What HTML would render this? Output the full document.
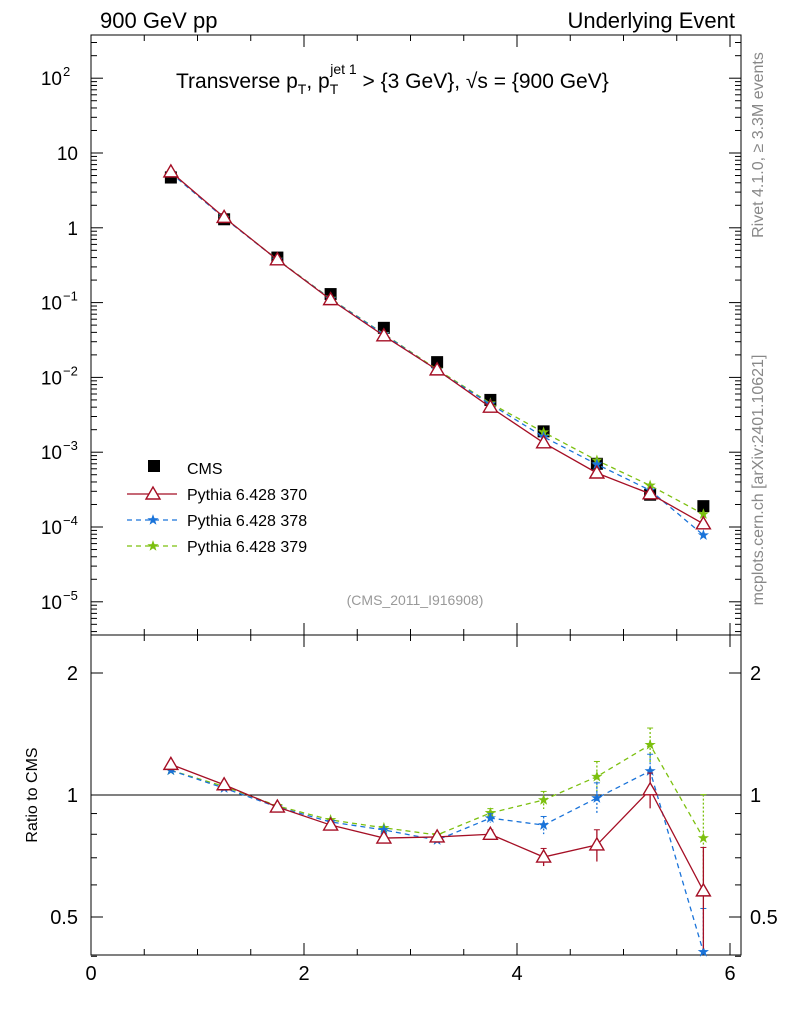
<!DOCTYPE html>
<html><head><meta charset="utf-8"><style>
body{margin:0;background:#fff;}
svg{font-family:"Liberation Sans",sans-serif;}
</style></head><body>
<svg id="c" width="786" height="1024" viewBox="0 0 786 1024" xmlns="http://www.w3.org/2000/svg"></svg>
<script>
const xCenters=[0.75,1.25,1.75,2.25,2.75,3.25,3.75,4.25,4.75,5.25,5.75];
const cmsValues=[4.7,1.3,0.4,0.13,0.046,0.016,0.005,0.0019,0.0007,0.00027,0.00019];
const ratio370=[1.19,1.06,0.934,0.843,0.783,0.788,0.80,0.703,0.753,1.03,0.58];
const ratio378=[1.15,1.04,0.934,0.858,0.82,0.774,0.877,0.843,0.983,1.146,0.41];
const ratio379=[1.15,1.05,0.94,0.868,0.83,0.797,0.903,0.972,1.11,1.33,0.783];
const ratioErr=[0,0,0,0,0.01,0.01,0.025,0.05,0.09,0.1,0.28];
const xTicks=[0,2,4,6];
const mainTicks=[-5,-4,-3,-2,-1,0,1,2];
const mainTickLabels=["10","10","10","10","10","1","10","10"];
const mainTickExp=["−5","−4","−3","−2","−1","","","2"];
const ratioTicks=[0.5,1,2];

const NS="http://www.w3.org/2000/svg";
const svg=document.getElementById('c');
function el(t,a,p){const e=document.createElementNS(NS,t);for(const k in a)e.setAttribute(k,a[k]);(p||svg).appendChild(e);return e;}
const L=91,R=741,T=35,M=635,B=955;
const sx=v=>L+v*106.5;
const sy=v=>153-(Math.log10(v)-1)*74.8;
const ry=v=>795-Math.log2(v)*122;

let f=el('rect',{x:L,y:T,width:R-L,height:M-T,fill:'none',stroke:'#000','stroke-width':1});

f=el('rect',{x:L,y:M,width:R-L,height:B-M,fill:'none',stroke:'#000','stroke-width':1});


for(let v=0;v<=6.1;v+=0.5){const X=sx(v);const major=Math.abs(v-Math.round(v/2)*2)<1e-6;const len=major?12:6;
 [[T,T+len],[M,M-len],[M,M+len],[B,B-len]].forEach(([a,b])=>el('line',{x1:X,x2:X,y1:a,y2:b,stroke:'#000'}));}
xTicks.forEach(v=>{const t=el('text',{x:sx(v),y:980,'font-size':20,'text-anchor':'middle'});t.textContent=v;
 });

for(let d=-6;d<=2;d++){for(let m=1;m<10;m++){const v=m*Math.pow(10,d);const Y=sy(v);if(Y<T||Y>M)continue;const len=m==1?12:6;
 el('line',{x1:L,x2:L+len,y1:Y,y2:Y,stroke:'#000'});el('line',{x1:R,x2:R-len,y1:Y,y2:Y,stroke:'#000'});}}
mainTicks.forEach((d,i)=>{const Y=sy(Math.pow(10,d))+7;const t=el('text',{x:mainTickExp[i]?62:78,y:Y,'font-size':19,'text-anchor':'end'});t.textContent=mainTickLabels[i];
 
 if(mainTickExp[i]){const e=el('text',{x:63,y:Y-9,'font-size':13});e.textContent=mainTickExp[i];}});

[0.4,0.5,0.6,0.7,0.8,0.9,1,2].forEach(v=>{const Y=ry(v);const len=(v==0.5||v==1||v==2)?12:6;
 el('line',{x1:L,x2:L+len,y1:Y,y2:Y,stroke:'#000'});el('line',{x1:R,x2:R-len,y1:Y,y2:Y,stroke:'#000'});});
ratioTicks.forEach(v=>{[[78,'end'],[750,'start']].forEach(([x,a])=>{const t=el('text',{x:x,y:ry(v)+7,'font-size':20,'text-anchor':a});t.textContent=v;
 });});
el('line',{x1:L,x2:R,y1:ry(1),y2:ry(1),stroke:'#000'});

function txt(s,a,name){const t=el('text',a);t.innerHTML=s;return t;}
txt('900 GeV pp',{x:100,y:28,'font-size':22},'top-left-label');
txt('Underlying Event',{x:735,y:28,'font-size':22,'text-anchor':'end'},'top-right-label');
txt('Transverse p<tspan font-size="14" dy="6">T</tspan><tspan dy="-6">, p</tspan><tspan font-size="14" dy="6">T</tspan><tspan font-size="14" dx="-8" dy="-20">jet 1</tspan><tspan dy="14"> &gt; {3 GeV}, √s = {900 GeV}</tspan>',{x:176,y:88,'font-size':21},'plot-title');
txt('(CMS_2011_I916908)',{x:415,y:605,'font-size':14,fill:'#999','text-anchor':'middle'},'analysis-id');
txt('Ratio to CMS',{x:37,y:795,'font-size':16,'text-anchor':'middle',transform:'rotate(-90 37 795)'},'ratio-y-axis-title');
txt('Rivet 4.1.0, ≥ 3.3M events',{x:763,y:145,'font-size':16,fill:'#888','text-anchor':'middle',transform:'rotate(-90 763 145)'},'rivet-label');
txt('mcplots.cern.ch [arXiv:2401.10621]',{x:763,y:480,'font-size':16,fill:'#888','text-anchor':'middle',transform:'rotate(-90 763 480)'},'mcplots-label');

function tri(x,y,c,g){el('polygon',{points:`${x},${y-7} ${x-7},${y+5} ${x+7},${y+5}`,fill:'#fff',stroke:c,'stroke-width':1.4},g);}
function star(x,y,c,g){let p=[];for(let i=0;i<10;i++){const r=i%2?2:5,a=-Math.PI/2+i*Math.PI/5;p.push((x+r*Math.cos(a)).toFixed(1)+','+(y+r*Math.sin(a)).toFixed(1));}
 el('polygon',{points:p.join(' '),fill:c,stroke:c,'stroke-width':0.6},g);}
const series=[{r:ratio370,c:'#a50f25',dash:'',m:tri,n:'pythia-370'},{r:ratio378,c:'#1a73d9',dash:'5,4',m:star,n:'pythia-378'},{r:ratio379,c:'#7cc00f',dash:'5,4',m:star,n:'pythia-379'}];

const cg=el('g',{});
series.slice().reverse().forEach(s=>{const g=el('g',{});
 const pts=xCenters.map((x,i)=>[sx(x),sy(cmsValues[i]*s.r[i])]);
 el('polyline',{points:pts.map(p=>p.join(',')).join(' '),fill:'none',stroke:s.c,'stroke-width':1.3,'stroke-dasharray':s.dash},g);
 pts.forEach(p=>s.m(p[0],p[1],s.c,g));});
xCenters.forEach((x,i)=>{el('rect',{x:sx(x)-6,y:sy(cmsValues[i])-6,width:12,height:12,fill:'#000'},cg);});

series.slice().reverse().forEach(s=>{const g=el('g',{});
 const pts=xCenters.map((x,i)=>[sx(x),ry(s.r[i])]);
 el('polyline',{points:pts.map(p=>p.join(',')).join(' '),fill:'none',stroke:s.c,'stroke-width':1.3,'stroke-dasharray':s.dash},g);
 xCenters.forEach((x,i)=>{const e=ratioErr[i]*s.r[i];if(e<0.01)return;const X=sx(x);
  el('line',{x1:X,x2:X,y1:ry(s.r[i]+e),y2:ry(Math.max(0.41,s.r[i]-e)),stroke:s.c,'stroke-width':1.3,'stroke-dasharray':s.dash?'2,2':''},g);
  el('line',{x1:X-3,x2:X+3,y1:ry(s.r[i]+e),y2:ry(s.r[i]+e),stroke:s.c},g);});
 pts.forEach(p=>s.m(p[0],p[1],s.c,g));});

const lg=el('g',{});
el('rect',{x:148,y:460,width:12,height:12,fill:'#000'},lg);
let t=el('text',{x:187,y:474,'font-size':16},lg);t.textContent='CMS';
series.forEach((s,i)=>{const Y=494+i*26;const g=el('g',{},lg);
 el('line',{x1:127,x2:177,y1:Y,y2:Y,stroke:s.c,'stroke-width':1.3,'stroke-dasharray':s.dash},g);s.m(153,Y,s.c,g);
 const tt=el('text',{x:187,y:Y+6,'font-size':16},g);tt.textContent='Pythia 6.428 '+['370','378','379'][i];});
</script>
</body></html>
